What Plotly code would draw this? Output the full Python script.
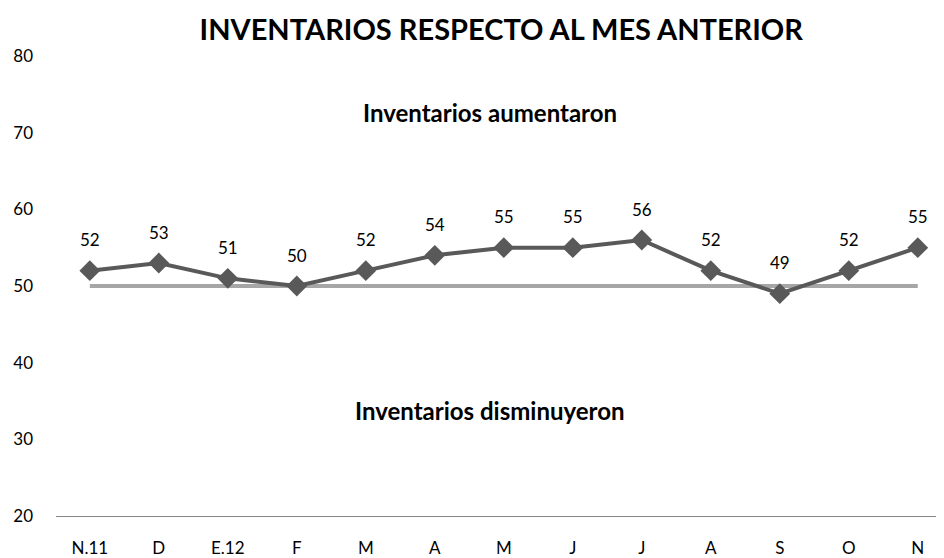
import plotly.graph_objects as go

# Data
meses = ["N.11", "D", "E.12", "F", "M", "A", "M", "J", "J", "A", "S", "O", "N"]
inventarios = [52, 53, 51, 50, 52, 54, 55, 55, 56, 52, 49, 52, 55]
umbral = [50] * len(meses)

FONT = "Lato"

x_idx = list(range(len(meses)))

fig = go.Figure()

# reference line at 50
fig.add_trace(go.Scatter(x=x_idx, y=umbral, mode="lines",
                         line=dict(color="#a6a6a6", width=4),
                         hoverinfo="skip", showlegend=False))

# main series
fig.add_trace(go.Scatter(x=x_idx, y=inventarios, mode="lines+markers",
                         line=dict(color="#595959", width=4),
                         marker=dict(symbol="diamond", size=16, color="#595959"),
                         showlegend=False))

# value labels above points
annotations = []
for xi, v in zip(x_idx, inventarios):
    annotations.append(dict(x=xi, y=v, text=str(v), showarrow=False,
                            yshift=31, font=dict(family=FONT, size=17, color="#000000")))

annotations.append(dict(x=5.8, y=72.6, text="<b>Inventarios aumentaron</b>", showarrow=False,
                        font=dict(family=FONT, size=24, color="#000000")))
annotations.append(dict(x=5.8, y=33.7, text="<b>Inventarios disminuyeron</b>", showarrow=False,
                        font=dict(family=FONT, size=24, color="#000000")))

# page body has an 8px margin, so the figure is sized to fit inside it
fig.update_layout(
    width=936, height=550,
    margin=dict(l=48, r=0, t=48, b=37),
    paper_bgcolor="white", plot_bgcolor="white",
    title=dict(text="<b>INVENTARIOS RESPECTO AL MES ANTERIOR</b>", x=0.527, xanchor="center",
               y=0.96, yanchor="middle",
               font=dict(family=FONT, size=29, color="#000000")),
    annotations=annotations,
    font=dict(family=FONT, size=17, color="#000000"),
)

fig.update_xaxes(range=[-0.49, 12.38], tickmode="array", tickvals=x_idx, ticktext=meses,
                 showgrid=False, zeroline=False, showline=True, linecolor="#868686", linewidth=1,
                 ticks="", ticklabelstandoff=17, tickfont=dict(family=FONT, size=17))
fig.update_yaxes(range=[20, 80], dtick=10, showgrid=False, zeroline=False, showline=False,
                 ticks="", ticklabelstandoff=22, tickfont=dict(family=FONT, size=17))

fig.write_html("out.html")
